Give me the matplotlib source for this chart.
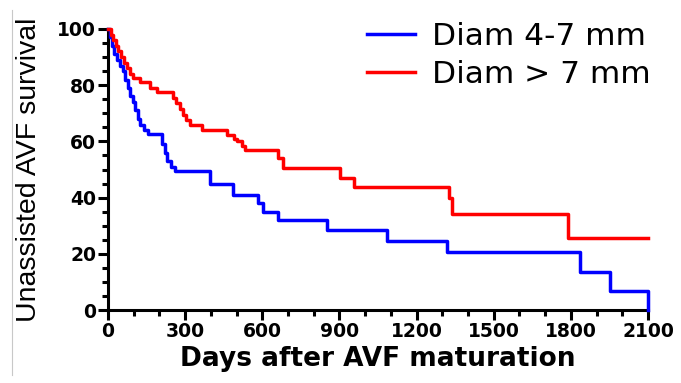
"""Kaplan-Meier style step plot: unassisted AVF survival by vein diameter."""

import matplotlib

matplotlib.use("Agg")
import matplotlib.pyplot as plt
from matplotlib.lines import Line2D
from matplotlib.ticker import MultipleLocator

plt.rcParams["font.family"] = ["DejaVu Sans"]

# Survival curves (days, percent surviving).
small_days = [0, 8, 16, 24, 34, 48, 60, 68, 76, 86, 96, 106, 116, 126,
              140, 156, 210, 220, 230, 245, 262,
              397, 486, 583, 603, 661, 852, 1085, 1318, 1836, 1952, 2100]
small_surv = [100, 97, 94, 91, 89, 87, 85, 82, 79, 76, 74, 71, 68, 66,
              64, 62.5, 59, 56, 53, 51, 49.5,
              45, 41, 38, 35, 32, 28.5, 24.4, 20.6, 13.7, 6.9, 0]

large_days = [0, 10, 19, 30, 40, 50, 62, 72, 85, 97, 124, 163, 191,
              252, 264, 280, 292, 305, 319, 365, 463, 490, 502, 520, 533,
              661, 680, 902, 957, 1326, 1338, 1789, 2100]
large_surv = [100, 98, 96, 94, 92, 90, 88, 86, 84, 82.5, 81, 79, 77.6,
              75.5, 73.6, 71.5, 69.4, 67.5, 65.8, 64, 62.3, 61, 60, 58.5, 57,
              54, 50.5, 47, 43.8, 40, 34.2, 25.6, 25.6]

series_labels = ["Diam 4-7 mm", "Diam > 7 mm"]
series_colors = ["#0000ff", "#ff0000"]

x_ticks = [0, 300, 600, 900, 1200, 1500, 1800, 2100]
y_ticks = [0, 20, 40, 60, 80, 100]

fig = plt.figure(figsize=(6.81, 3.83), dpi=100)
ax = fig.add_axes([108 / 681, 1 - 310 / 383, 540 / 681, 281 / 383])

for days, surv, label, color in zip(
    [small_days, large_days], [small_surv, large_surv], series_labels, series_colors
):
    ax.step(days, surv, where="post", color=color, linewidth=2.5,
            label=label, clip_on=False, zorder=3)

ax.set_xlim(0, 2100)
ax.set_ylim(0, 100)
ax.set_xticks(x_ticks)
ax.set_yticks(y_ticks)
ax.xaxis.set_minor_locator(MultipleLocator(100))
ax.yaxis.set_minor_locator(MultipleLocator(5))

for side in ("top", "right"):
    ax.spines[side].set_visible(False)
for side in ("left", "bottom"):
    ax.spines[side].set_linewidth(2.2)

ax.tick_params(which="major", length=7, width=2.2, labelsize=13.5, pad=1.5)
ax.tick_params(which="minor", length=4, width=2.2)
for lab in ax.get_xticklabels() + ax.get_yticklabels():
    lab.set_fontweight("bold")

ax.set_xlabel("Days after AVF maturation", fontsize=19, fontweight="bold",
              labelpad=4)
ax.set_ylabel("Unassisted AVF survival", fontsize=20.5, labelpad=11,
              family="Liberation Sans")

ax.legend(loc="upper left", bbox_to_anchor=(367 / 681, 1 - 22 / 383),
          bbox_transform=fig.transFigure, frameon=False, fontsize=22.5,
          handlelength=1.55, handletextpad=0.52, labelspacing=0.28,
          borderpad=0, borderaxespad=0)

# faint border line from the original screenshot
fig.add_artist(Line2D([12 / 681, 12 / 681], [1 - 375 / 383, 1 - 10 / 383],
                      color="#c8c8c8", linewidth=0.8))

fig.savefig("out.png", dpi=100, facecolor="white")
plt.close(fig)
